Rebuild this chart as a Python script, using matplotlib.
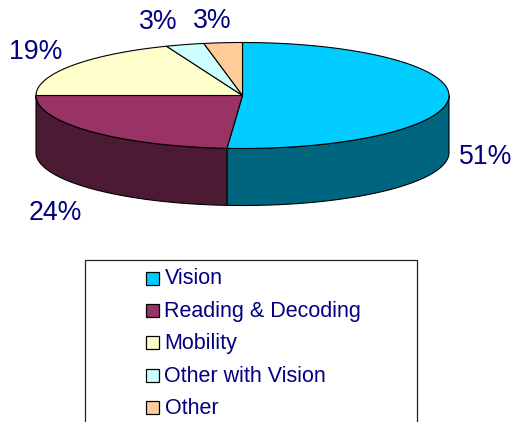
import numpy as np
import matplotlib
matplotlib.use('Agg')
import matplotlib.pyplot as plt
from matplotlib.patches import Polygon, Rectangle

categories = ['Vision', 'Reading & Decoding', 'Mobility', 'Other with Vision', 'Other']
values = [51.2, 23.8, 19, 3, 3]

top_colors = ['#00CCFF', '#993366', '#FFFFCC', '#CCFFFF', '#FFCC99']
side_colors = ['#006680', '#4D1A33', '#808066', '#668080', '#806650']
navy = '#000080'

# pie geometry in pixels
cx, cy = 242.5, 95.5
rx, ry = 206.5, 53.0
depth = 57.0
label_pos = [(485.5, 157), (55, 213), (36, 52), (158, 22), (212, 20.5)]

plt.rcParams['font.family'] = ['Liberation Sans', 'DejaVu Sans']

fig = plt.figure(figsize=(5.14, 4.22), dpi=100)
ax = fig.add_axes([0, 0, 1, 1])
ax.set_xlim(0, 514)
ax.set_ylim(422, 0)
ax.axis('off')


def rim(a0, a1):
    # clockwise from 12 o'clock, angles in percent of the pie
    t = np.linspace(a0, a1, 200) / 100. * 2 * np.pi
    return cx + rx * np.sin(t), cy - ry * np.cos(t)


edges = np.concatenate([[0], np.cumsum(values)]) / float(sum(values)) * 100.

# side wall: only the front half of the pie shows
for i in range(len(values)):
    a0 = max(edges[i], 25.)
    a1 = min(edges[i + 1], 75.)
    if a1 <= a0:
        continue
    x, y = rim(a0, a1)
    pts = np.concatenate([np.c_[x, y], np.c_[x, y + depth][::-1]])
    ax.add_patch(Polygon(pts, closed=True, fc=side_colors[i], ec='black', lw=0.8, zorder=2))

# top face
for i in range(len(values)):
    x, y = rim(edges[i], edges[i + 1])
    pts = np.concatenate([[[cx, cy]], np.c_[x, y]])
    ax.add_patch(Polygon(pts, closed=True, fc=top_colors[i], ec='black', lw=0.8, zorder=3))

for v, (lx, ly) in zip(values, label_pos):
    ax.text(lx, ly, '%.0f%%' % v, color=navy, fontsize=19.2, ha='center', va='center', zorder=4)

# legend box runs off the bottom of the picture
ax.add_patch(Rectangle((85, 260), 332, 200, fc='white', ec='#222222', lw=0.9, zorder=1))
rows = [278, 310.5, 342.5, 375, 407]
for name, col, ry_ in zip(categories, top_colors, rows):
    ax.add_patch(Rectangle((146, ry_ - 6.5), 13, 13, fc=col, ec='black', lw=0.9, zorder=3))
    ax.text(164.5, ry_ + 1, name, color=navy, fontsize=15.5, ha='left', va='center', zorder=4)

fig.savefig('out.png', dpi=100)
